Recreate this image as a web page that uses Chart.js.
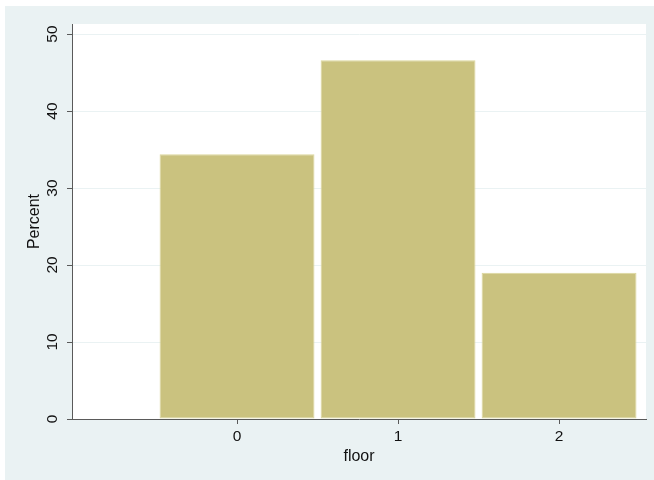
<!DOCTYPE html>
<html>
<head>
<meta charset="utf-8">
<script src="https://cdn.jsdelivr.net/npm/chart.js@4"></script>
<style>
  body { margin: 0; background: #fff; }
  #frame { position: absolute; left: 5px; top: 6px; width: 649px; height: 474px; background: #eaf2f3; }
</style>
</head>
<body>
<div id="frame"><canvas id="chart" width="649" height="474"></canvas></div>
<script>
/* DATA */
const floorValues = [0, 1, 2];
const percentValues = [34.4, 46.6, 19.0];
const xTicks = [0, 1, 2];
const yTicks = [0, 10, 20, 30, 40, 50];

const tickFont = { family: "'Liberation Sans', Arial, sans-serif", size: 15.5 };
const titleFont = { family: "'Liberation Sans', Arial, sans-serif", size: 16 };
const axisColor = "#5a5a5a";

/* white plot region */
const plotBg = {
  id: "plotBg",
  beforeDraw(chart) {
    const a = chart.chartArea, ctx = chart.ctx;
    ctx.save();
    ctx.fillStyle = "#ffffff";
    ctx.fillRect(a.left, a.top, a.right - a.left, a.bottom - a.top);
    ctx.restore();
  }
};

new Chart(document.getElementById("chart"), {
  type: "bar",
  data: {
    datasets: [{
      data: floorValues.map((x, i) => ({ x, y: percentValues[i] })),
      backgroundColor: "#cac27f",
      borderColor: "#dcd69c",
      borderWidth: 1,
      borderSkipped: false,
      categoryPercentage: 1,
      barPercentage: 0.962
    }]
  },
  options: {
    responsive: false,
    animation: false,
    layout: { padding: { left: 0, top: 18, right: 8, bottom: 0 } },
    plugins: { legend: { display: false }, tooltip: { enabled: false } },
    scales: {
      x: {
        type: "linear",
        min: -1.025,
        max: 2.54,
        offset: false,
        afterBuildTicks: s => { s.ticks = xTicks.map(v => ({ value: v })); },
        afterFit: s => { s.height = 61; },
        grid: { offset: false, drawOnChartArea: false, drawTicks: true, tickLength: 5, tickColor: axisColor },
        border: { color: axisColor, width: 1 },
        ticks: { color: "#111", font: tickFont, padding: 3, maxRotation: 0 },
        title: { display: true, text: "floor", color: "#111", font: titleFont, padding: { top: 0, bottom: 14 } }
      },
      y: {
        min: 0,
        max: 51.3,
        afterBuildTicks: s => { s.ticks = yTicks.map(v => ({ value: v })); },
        afterFit: s => { s.width = 67; },
        grid: { color: "#eaf2f3", tickColor: axisColor, tickLength: 5, lineWidth: 1 },
        border: { color: axisColor, width: 1 },
        ticks: { color: "#111", font: tickFont, padding: 6, minRotation: 90, maxRotation: 90, crossAlign: "center" },
        title: { display: true, text: "Percent", color: "#111", font: titleFont, padding: { top: 20, bottom: 0 } }
      }
    }
  },
  plugins: [plotBg]
});
</script>
</body>
</html>
